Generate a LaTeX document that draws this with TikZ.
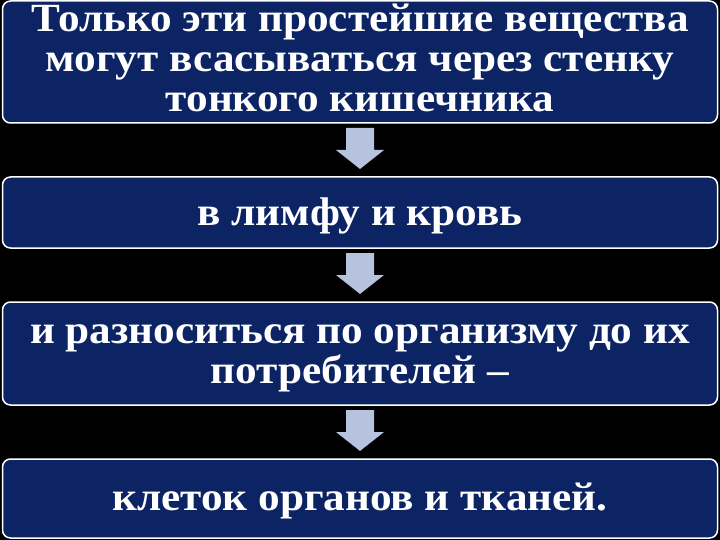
\documentclass[tikz,border=0pt]{standalone}
\usepackage{fontspec}
\setmainfont{Liberation Serif}[FakeStretch=1.08]
\usetikzlibrary{calc}
\definecolor{navy}{RGB}{12,36,100}
\definecolor{arrowblue}{RGB}{182,194,222}
\tikzset{
    stage/.style={draw=white,line width=1.5pt,fill=navy,rounded corners=8pt,
        minimum width=715pt,inner sep=0pt},
    stagetext/.style={text=white,align=center,inner sep=0pt,
        font=\bfseries\fontsize{40}{40}\selectfont}
}
\begin{document}
\begin{tikzpicture}[x=1pt,y=-1pt]
            \fill[black] (0,0) rectangle (720,540);
            \useasboundingbox (0,0) rectangle (720,540);
            \node[stage,minimum height=122pt] (s1) at (360,62) {};
            \node[stage,minimum height=71pt] (s2) at (360,212.5) {};
            \node[stage,minimum height=103pt] (s3) at (360,353.5) {};
            \node[stage,minimum height=79pt] (s4) at (360,498.5) {};
            \node[stagetext] (t1) at ([yshift=4pt]s1.center)
                {Только эти простейшие вещества\\могут всасываться через стенку\\тонкого кишечника};
            \node[stagetext] (t2) at ([yshift=-3pt]s2.center) {в лимфу и кровь};
            \node[stagetext] (t3) at ([yshift=-5pt]s3.center)
                {и разноситься по организму до их\\потребителей –};
            \node[stagetext] (t4) at ([yshift=-2pt]s4.center) {клеток органов и тканей.};
            \foreach \a/\b in {s1/s2,s2/s3,s3/s4}{
            \coordinate (\a\b) at ($(\a.south)!0.5!(\b.north)$);
            \fill[arrowblue] ([shift={(-14,-22)}]\a\b) -- ([shift={(14,-22)}]\a\b)
                -- ([shift={(14,0)}]\a\b) -- ([shift={(24,0)}]\a\b)
                -- ([shift={(0,19)}]\a\b) -- ([shift={(-24,0)}]\a\b)
                -- ([shift={(-14,0)}]\a\b) -- cycle;
            }
\end{tikzpicture}
\end{document}
